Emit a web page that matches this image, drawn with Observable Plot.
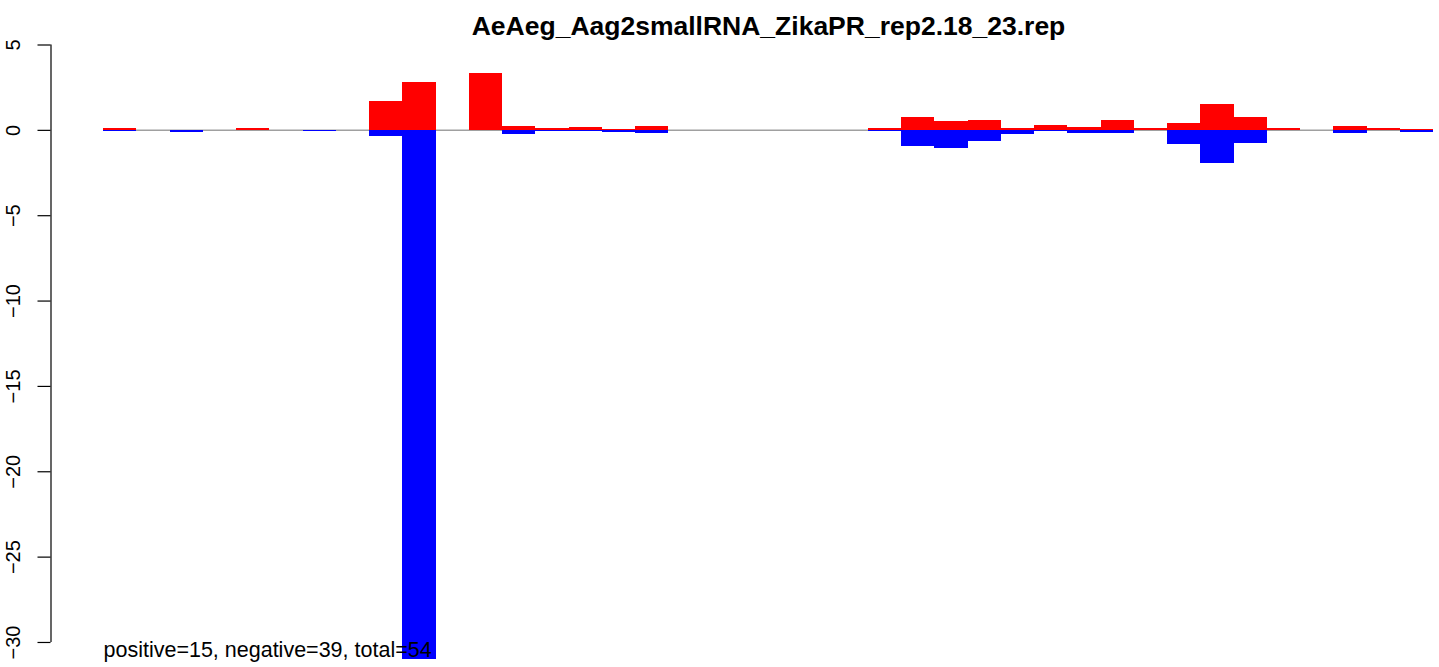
<!DOCTYPE html>
<html><head><meta charset="utf-8">
<script src="https://cdn.jsdelivr.net/npm/d3@7"></script>
<script src="https://cdn.jsdelivr.net/npm/@observablehq/plot@0.6"></script>
<style>html,body{margin:0;padding:0;background:#fff} svg{display:block}</style>
</head><body><div id="chart"></div>
<script>
const chartTitle = "AeAeg_Aag2smallRNA_ZikaPR_rep2.18_23.rep";
const note = "positive=15, negative=39, total=54";
// per-bin values (40 bins)
const positive = [0.08, 0, 0, 0, 0.08, 0, 0, 0.02, 1.67, 2.78,
                  0, 3.31, 0.2, 0.08, 0.14, 0.04, 0.25, 0, 0, 0,
                  0, 0, 0.02, 0.08, 0.78, 0.49, 0.55, 0.08, 0.31, 0.14,
                  0.55, 0.08, 0.43, 1.49, 0.73, 0.08, 0.02, 0.25, 0.08, 0.04];
const negative = [-0.08, 0, -0.14, 0, 0, 0, -0.08, 0, -0.37, -31.0,
                  0, 0, -0.27, -0.04, -0.06, -0.14, -0.2, 0, 0, 0,
                  0, 0, 0, -0.08, -0.92, -1.04, -0.63, -0.27, -0.08, -0.16,
                  -0.2, 0, -0.8, -1.92, -0.75, 0, 0, -0.16, 0, -0.1];
const yTicks = [5, 0, -5, -10, -15, -20, -25, -30];
const yLimits = [-31.05, 5];

const bins = positive.map((_, i) => i);
const posData = bins.map(i => ({bin: i, v: positive[i]}));
const negData = bins.map(i => ({bin: i, v: negative[i]}));
const fmt = d => d < 0 ? "\u2212" + Math.abs(d) : String(d);

const chart = Plot.plot({
  width: 1439, height: 667,
  marginLeft: 50.5, marginRight: 6, marginTop: 44.5, marginBottom: 7,
  x: {type: "linear", domain: [0, bins.length], range: [103, 1433], axis: null},
  y: {type: "linear", domain: yLimits, range: [659.9, 44.5], axis: null},
  style: {fontFamily: "'Liberation Sans', Arial, Helvetica, sans-serif", background: "#fff", color: "#000"},
  marks: [
    Plot.ruleY([0], {x1: 0, x2: bins.length, stroke: "#a0a0a0", strokeWidth: 1.5}),
    Plot.rectY(posData, {x1: "bin", x2: d => d.bin + 1, y1: 0, y2: "v", fill: "#ff0000", shapeRendering: "crispEdges"}),
    Plot.rectY(negData, {x1: "bin", x2: d => d.bin + 1, y1: 0, y2: "v", fill: "#0000ff", shapeRendering: "crispEdges"}),
    // y axis line
    Plot.ruleX([0], {x: d => d, y1: d3.max(yTicks), y2: d3.min(yTicks), dx: -52.5, stroke: "#000", strokeWidth: 1.2}),
    // y axis ticks
    Plot.ruleY(yTicks, {y: d => d, x1: 0, x2: 0, insetLeft: -65.5, insetRight: 52.5, stroke: "#000", strokeWidth: 1.2}),
    // y tick labels
    Plot.text(yTicks, {y: d => d, x: 0, dx: -90, rotate: -90, text: fmt, fontSize: 20, fill: "#000", lineAnchor: "middle"}),
    // title
    Plot.text([chartTitle], {x: bins.length / 2, frameAnchor: "top", lineAnchor: "middle", dy: -18, text: d => d, fontSize: 26.5, fontWeight: "bold", fill: "#000"}),
    // note
    Plot.text([note], {x: 0, frameAnchor: "bottom", lineAnchor: "middle", dy: -9.9, text: d => d, textAnchor: "start", fontSize: 21.5, fill: "#000"})
  ]
});
document.getElementById("chart").appendChild(chart);
</script>
</body></html>
